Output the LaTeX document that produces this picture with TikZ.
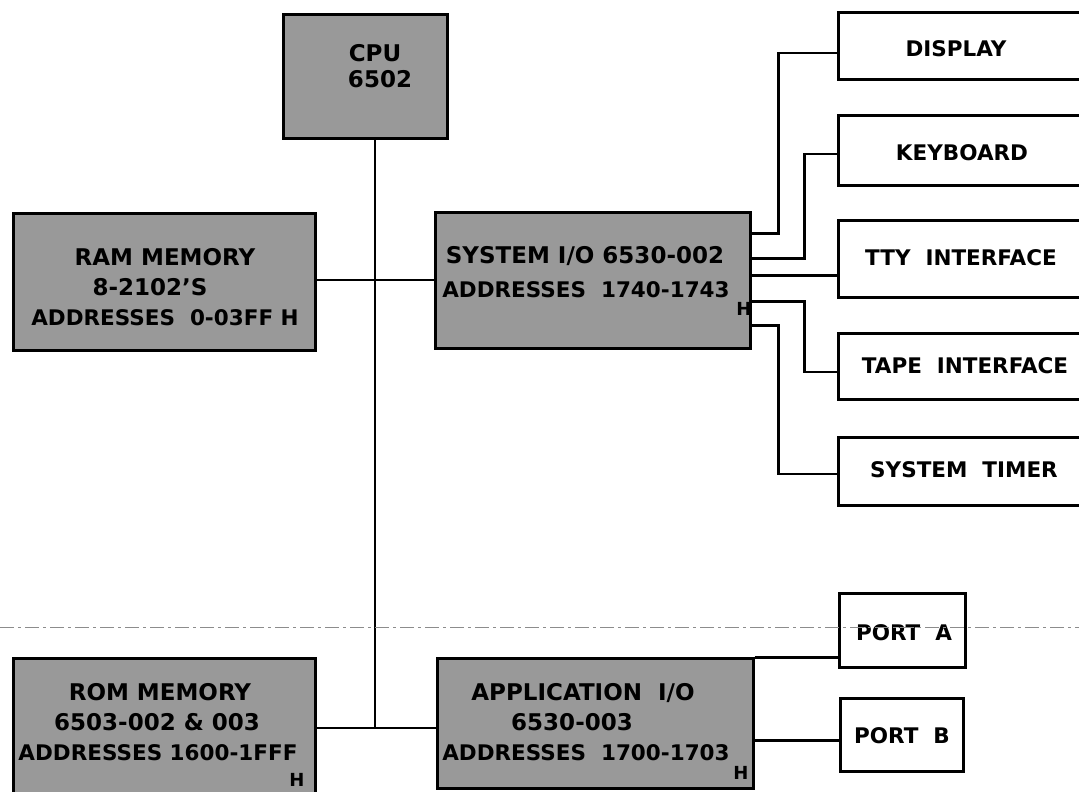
\documentclass[tikz,border=0pt]{standalone}
\usepackage{fontspec}
\setmainfont{DejaVu Sans}
\usetikzlibrary{calc}
\tikzset{
  graybox/.style={draw, line width=3pt, fill=black!40, inner sep=0pt},
  whitebox/.style={draw, line width=3pt, inner sep=0pt},
  conn/.style={line width=2.6pt},
  glab/.style={font=\bfseries\fontsize{23}{27}\selectfont, anchor=base, inner sep=0pt},
  glabs/.style={font=\bfseries\fontsize{21.5}{25}\selectfont, anchor=base, inner sep=0pt},
  wlab/.style={font=\bfseries\fontsize{21.5}{25}\selectfont, anchor=base, inner sep=0pt},
  sublab/.style={font=\bfseries\fontsize{18}{20}\selectfont, anchor=base, inner sep=0pt},
  foldline/.style={draw=black!45, line width=0.8pt, dash pattern=on 14pt off 4pt on 3pt off 4pt}
}
\begin{document}
\begin{tikzpicture}[x=1pt,y=-1pt]
\useasboundingbox (0,0) rectangle (1079,792);
\clip (0,0) rectangle (1079,792);
\fill[white] (0,0) rectangle (1079,792);

% shaded boxes
\node[graybox, minimum width=164pt, minimum height=123pt] (cpu) at (365,76.5) {};
\node[graybox, minimum width=302pt, minimum height=137pt] (ram) at (164,281.5) {};
\node[graybox, minimum width=315pt, minimum height=136pt] (sysio) at (592.5,280) {};
\node[graybox, minimum width=302pt, minimum height=142pt] (rom) at (164,729) {};
\node[graybox, minimum width=316pt, minimum height=130pt] (app) at (595,723) {};

% white boxes
\node[whitebox, minimum width=257pt, minimum height=67pt] (display) at (966.5,46.5) {};
\node[whitebox, minimum width=257pt, minimum height=70pt] (keyboard) at (966.5,150) {};
\node[whitebox, minimum width=257pt, minimum height=77pt] (tty) at (966.5,258.5) {};
\node[whitebox, minimum width=257pt, minimum height=66pt] (tape) at (966.5,366) {};
\node[whitebox, minimum width=257pt, minimum height=68pt] (timer) at (966.5,471) {};
\node[whitebox, minimum width=126pt, minimum height=74pt] (porta) at (902,630) {};
\node[whitebox, minimum width=123pt, minimum height=73pt] (portb) at (901.5,734.5) {};

% bus
\coordinate (busbot) at (375,728);
\draw[conn] (cpu.south -| busbot) -- (busbot);
\draw[conn] (ram.east |- sysio.west) -- (sysio.west);
\draw[conn] (rom.east |- busbot) -- (app.west |- busbot);

% system I/O connectors
\draw[conn] ($(sysio.north east)+(0,23)$) -- ++(27,0) |- ($(display.west)+(0,6.5)$);
\draw[conn] ($(sysio.north east)+(0,48)$) -- ++(53,0) |- ($(keyboard.west)+(0,4)$);
\draw[conn] ($(sysio.north east)+(0,65)$) -- ($(tty.north west)+(0,57)$);
\draw[conn] ($(sysio.north east)+(0,91)$) -- ++(53,0) |- ($(tape.west)+(0,6)$);
\draw[conn] ($(sysio.north east)+(0,115)$) -- ++(27,0) |- ($(timer.west)+(0,3)$);

% application I/O connectors
\path ($(app.north east)+(0,1)$) coordinate (pa1);
\path ($(app.north east)+(0,84)$) coordinate (pb1);
\draw[conn] (pa1) -- (pa1 -| porta.west);
\draw[conn] (pb1) -- (pb1 -| portb.west);

% labels in shaded boxes
\node[glab] (tcpu1) at (375,62) {CPU};
\node[glab] (tcpu2) at (380,88) {6502};

\node[glab] (tram1) at (165,265) {RAM MEMORY};
\node[glab] (tram2) at (150,295) {8-2102'S};
\node[glabs] (tram3) at (165,325) {ADDRESSES\ \ 0-03FF H};

\node[glab] (tsys1) at (585,263) {SYSTEM I/O 6530-002};
\node[glabs] (tsys2) at (586,297) {ADDRESSES\ \ 1740-1743};
\node[sublab] (tsys3) at (744,315) {H};

\node[glab] (trom1) at (160,700) {ROM MEMORY};
\node[glab] (trom2) at (157,730) {6503-002 \& 003};
\node[glabs] (trom3) at (158,760) {ADDRESSES 1600-1FFF};
\node[sublab] (trom4) at (297,786) {H};

\node[glab] (tapp1) at (583,700) {APPLICATION\ \ I/O};
\node[glab] (tapp2) at (572,730) {6530-003};
\node[glabs] (tapp3) at (586,760) {ADDRESSES\ \ 1700-1703};
\node[sublab] (tapp4) at (741,779) {H};

% labels in white boxes
\node[wlab] (tdisp) at (956,57) {DISPLAY};
\node[wlab] (tkey) at (962,160) {KEYBOARD};
\node[wlab] (ttty) at (961,265) {TTY\ \ INTERFACE};
\node[wlab] (ttape) at (965,373) {TAPE\ \ INTERFACE};
\node[wlab] (ttimer) at (964,477) {SYSTEM\ \ TIMER};
\node[wlab] (tporta) at (904,640) {PORT\ \ A};
\node[wlab] (tportb) at (902,743) {PORT\ \ B};

% faint fold line across the page
\coordinate (fl) at (0,627);
\coordinate (fr) at (1079,627);
\draw[foldline] (fl) -- (fr);
\end{tikzpicture}
\end{document}
